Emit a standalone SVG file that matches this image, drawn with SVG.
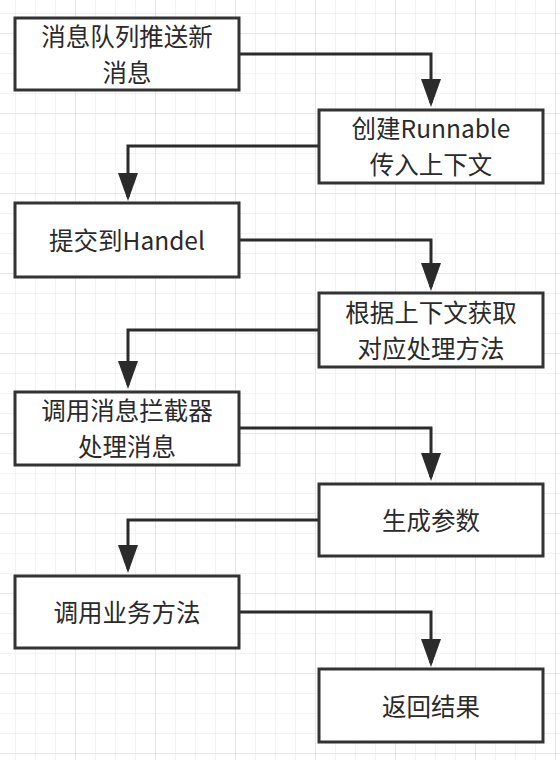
<svg xmlns="http://www.w3.org/2000/svg" width="560" height="760" viewBox="0 0 560 760">
  <defs>
    <pattern id="minor" x="15" y="13" width="20" height="20" patternUnits="userSpaceOnUse">
      <path d="M0,0 H20 M0,0 V20" fill="none" stroke="#efefef" stroke-width="1.5"/>
    </pattern>
    <pattern id="major" x="75" y="33" width="80" height="80" patternUnits="userSpaceOnUse">
      <path d="M0,0 H80 M0,0 V80" fill="none" stroke="#e2e2e2" stroke-width="1.5"/>
    </pattern>
    <marker id="arrow" viewBox="0 0 28 20" refX="24" refY="10" markerWidth="28" markerHeight="20" markerUnits="userSpaceOnUse" orient="auto">
      <path d="M0,0 L28,10 L0,20 z" fill="#2b2b2b"/>
    </marker>
    <style>
      .box { fill: #ffffff; stroke: #333333; stroke-width: 3; }
      .conn { fill: none; stroke: #2b2b2b; stroke-width: 3; marker-end: url(#arrow); }
      .lbl { font-family: "Noto Sans CJK SC", "Liberation Sans", sans-serif; font-size: 24.5px; fill: #2a2a2a; text-anchor: middle; }
    </style>
  </defs>
  <rect width="560" height="760" fill="#ffffff"/>
  <rect width="560" height="760" fill="url(#minor)"/>
  <rect width="560" height="760" fill="url(#major)"/>

  <g id="connectors">
    <path class="conn" d="M239,54 H431 V103"/>
    <path class="conn" d="M319,146 H128 V197"/>
    <path class="conn" d="M239,240 H431 V287"/>
    <path class="conn" d="M319,330 H128 V385"/>
    <path class="conn" d="M239,428 H431 V477"/>
    <path class="conn" d="M319,520 H128 V569"/>
    <path class="conn" d="M239,612 H431 V663"/>
  </g>

  <g id="n1">
    <rect class="box" x="15" y="18" width="224" height="72"/>
    <text class="lbl" x="127" y="45.5">消息队列推送新</text>
    <text class="lbl" x="127" y="81.5">消息</text>
  </g>
  <g id="n2">
    <rect class="box" x="319" y="110" width="224" height="73"/>
    <text class="lbl" x="431" y="137.5">创建Runnable</text>
    <text class="lbl" x="431" y="173.5">传入上下文</text>
  </g>
  <g id="n3">
    <rect class="box" x="15" y="203" width="224" height="74"/>
    <text class="lbl" x="127" y="249.5">提交到Handel</text>
  </g>
  <g id="n4">
    <rect class="box" x="319" y="293" width="224" height="74"/>
    <text class="lbl" x="431" y="321.5">根据上下文获取</text>
    <text class="lbl" x="431" y="357.5">对应处理方法</text>
  </g>
  <g id="n5">
    <rect class="box" x="15" y="392" width="224" height="73"/>
    <text class="lbl" x="127" y="419.5">调用消息拦截器</text>
    <text class="lbl" x="127" y="455.5">处理消息</text>
  </g>
  <g id="n6">
    <rect class="box" x="319" y="484" width="224" height="72"/>
    <text class="lbl" x="431" y="529.5">生成参数</text>
  </g>
  <g id="n7">
    <rect class="box" x="15" y="576" width="224" height="72"/>
    <text class="lbl" x="127" y="621.5">调用业务方法</text>
  </g>
  <g id="n8">
    <rect class="box" x="319" y="669" width="224" height="73"/>
    <text class="lbl" x="431" y="715.5">返回结果</text>
  </g>
</svg>
